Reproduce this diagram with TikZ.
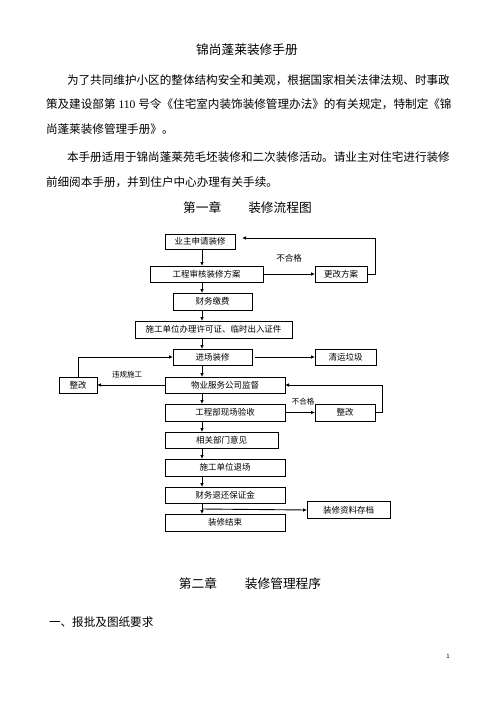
\documentclass[tikz,border=0pt]{standalone}
\usepackage{fontspec}
\setmainfont{Noto Sans CJK SC}
\newfontfamily\latinfont{Liberation Serif}
\usetikzlibrary{arrows.meta}
\tikzset{
	every node/.append style={
		inner sep=0pt,
		outer sep=0pt,
	},
	flowbox/.append style={
		draw,
		line width=0.9pt,
		align = center,
		font={\fontsize{8.5}{10}\selectfont},
	},
	note/.append style={
		font={\fontsize{7.5}{9}\selectfont},
	},
	para/.append style={
		anchor=west,
		font={\fontsize{11.6}{14}\selectfont},
	},
	head/.append style={
		font={\fontsize{12.7}{15}\selectfont},
	},
	flow/.append style={
		line width=0.9pt,
		-{Latex[length=4pt,width=3.6pt]},
	}
}

\begin{document}
\begin{tikzpicture}[x=1pt,y=-1pt]
\useasboundingbox[fill=white] (0,0) rectangle (496,702);

\node(title)[head] at (247,50){锦尚蓬莱装修手册};
\node(p1)[para] at (67,80){为了共同维护小区的整体结构安全和美观，根据国家相关法律法规、时事政};
\node(p2)[para] at (46,104){策及建设部第{\latinfont\ 110\ }号令《住宅室内装饰装修管理办法》的有关规定，特制定《锦};
\node(p3)[para] at (46,129){尚蓬莱装修管理手册》。};
\node(p4)[para] at (67,157){本手册适用于锦尚蓬莱苑毛坯装修和二次装修活动。请业主对住宅进行装修};
\node(p5)[para] at (46,182){前细阅本手册，并到住户中心办理有关手续。};
\node(ch1)[head] at (247.5,208){第一章\hspace{27pt}装修流程图};

\coordinate(spine) at (202,0);

\node(apply)[flowbox, minimum width=70pt, minimum height=15pt] at (200,241.5){业主申请装修};
\node(review)[flowbox, minimum width=113pt, minimum height=16pt] at (206.5,274){工程审核装修方案};
\node(revise)[flowbox, minimum width=52pt, minimum height=16pt] at (341,274){更改方案};
\node(fee)[flowbox, minimum width=79pt, minimum height=17pt] at (212.5,301.5){财务缴费};
\node(permit)[flowbox, minimum width=157pt, minimum height=17pt] at (213.5,329.5){施工单位办理许可证、临时出入证件};
\node(enter)[flowbox, minimum width=79pt, minimum height=16pt] at (212.5,357){进场装修};
\node(garbage)[flowbox, minimum width=61pt, minimum height=16pt] at (345.5,357){清运垃圾};
\node(fixl)[flowbox, minimum width=38pt, minimum height=16pt] at (78,385){整改};
\node(supervise)[flowbox, minimum width=120pt, minimum height=16pt] at (225,385){物业服务公司监督};
\node(accept)[flowbox, minimum width=120pt, minimum height=17pt] at (225,412.5){工程部现场验收};
\node(fixr)[flowbox, minimum width=60pt, minimum height=17pt] at (345,412.5){整改};
\node(opinion)[flowbox, minimum width=113pt, minimum height=16pt] at (221.5,440){相关部门意见};
\node(leave)[flowbox, minimum width=120pt, minimum height=17pt] at (225,467.5){施工单位退场};
\node(refund)[flowbox, minimum width=120pt, minimum height=16pt] at (225,495){财务退还保证金};
\node(finish)[flowbox, minimum width=120pt, minimum height=17pt] at (225,522.5){装修结束};
\node(archive)[flowbox, minimum width=83pt, minimum height=17pt] at (348.5,510){装修资料存档};

\node(fail1)[note, font={\fontsize{8.5}{10}\selectfont}] at (289,258){不合格};
\node(illegal)[note] at (127,375){违规施工};
\node(fail2)[note] at (303,402){不合格};

\draw[flow] (apply.south -| spine) -- (review.north -| spine);
\draw[flow] (review.south -| spine) -- (fee.north -| spine);
\draw[flow] (fee.south -| spine) -- (permit.north -| spine);
\draw[flow] (permit.south -| spine) -- (enter.north -| spine);
\draw[flow] (enter.south -| spine) -- (supervise.north -| spine);
\draw[flow] (supervise.south -| spine) -- (accept.north -| spine);
\draw[flow] (accept.south -| spine) -- (opinion.north -| spine);
\draw[flow] (opinion.south -| spine) -- (leave.north -| spine);
\draw[flow] (leave.south -| spine) -- (refund.north -| spine);
\draw[flow] (refund.south -| spine) -- (finish.north -| spine);

\draw[flow] (review.east) -- (revise.west);
\draw[flow] (revise.east) -- ++(8,0) |- ([xshift=7pt,yshift=3.5pt]apply.east);
\draw[flow] ([xshift=3pt]enter.east) -- (garbage.west);
\draw[flow] (supervise.west) -- (fixl.east);
\draw[flow] (fixl.north) |- (enter.west);
\draw[flow] (accept.east) -- (fixr.west);
\draw[flow] (fixr.east) -- ++(7,0) |- (supervise.east);
\coordinate(split) at (202,509);
\draw[flow] (split) -- (archive.west);

\node(ch2)[head] at (250,584){第二章\hspace{28pt}装修管理程序};
\node(sec1)[para] at (49,622){一、报批及图纸要求};
\node(page)[font={\fontsize{6}{7}\selectfont}] at (448,656){1};

\end{tikzpicture}
\end{document}
